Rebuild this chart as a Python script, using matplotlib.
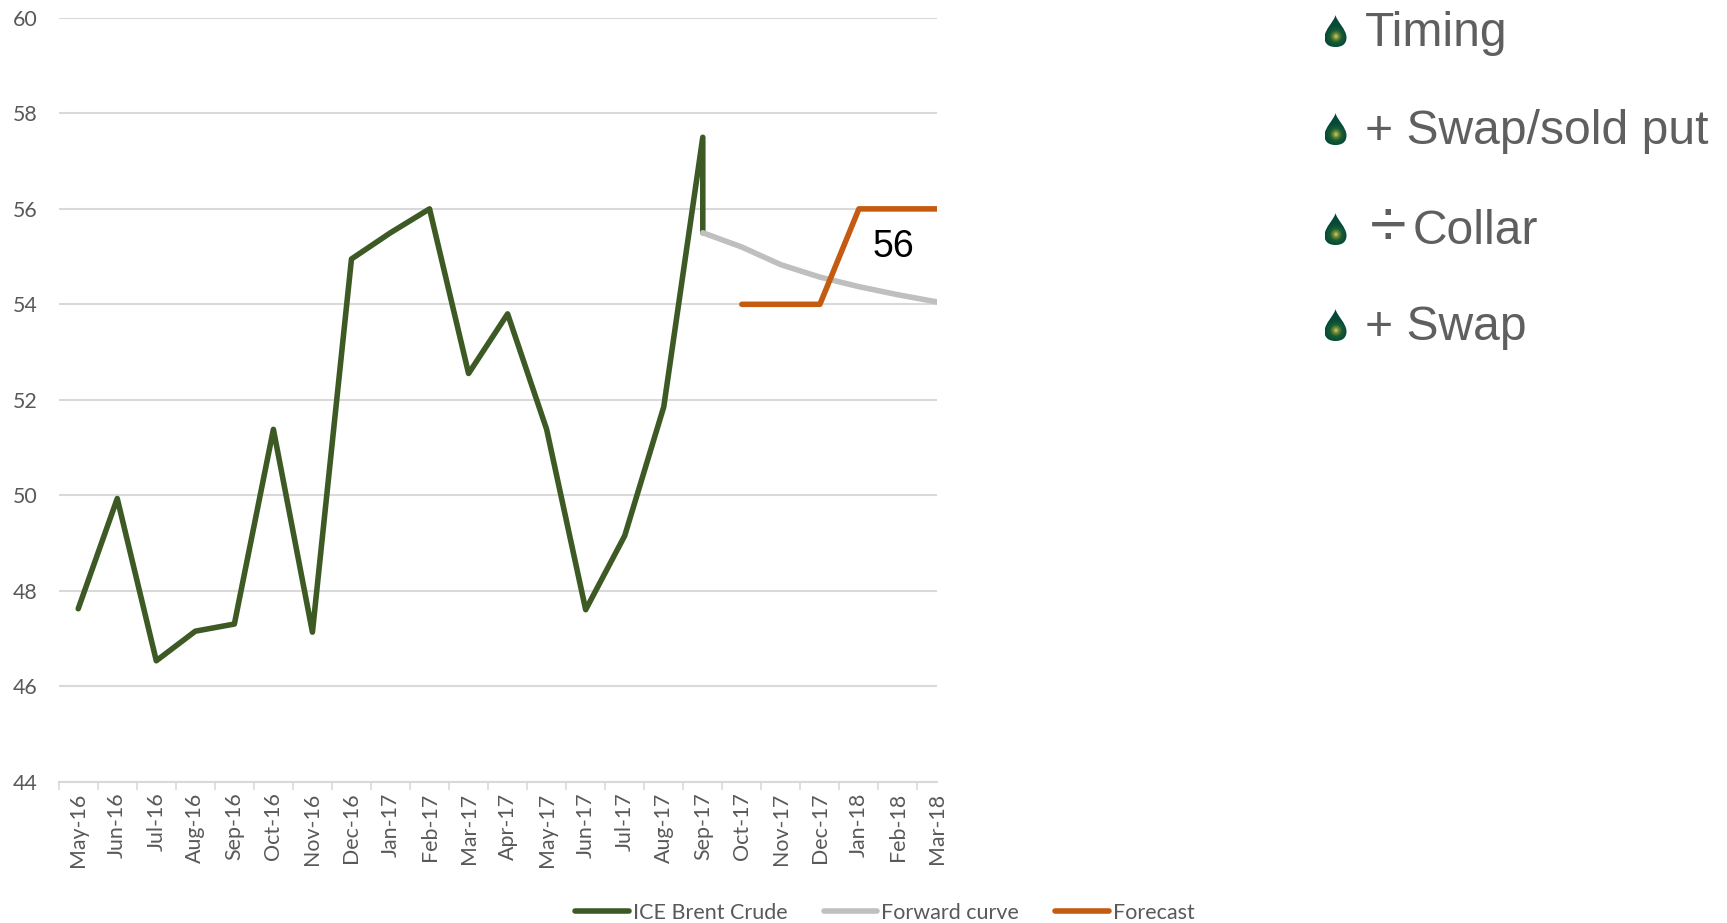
import numpy as np
import matplotlib
matplotlib.use("Agg")
import matplotlib.pyplot as plt
from matplotlib.patches import PathPatch
from matplotlib.path import Path

W, H = 1727, 923

months = ["May-16", "Jun-16", "Jul-16", "Aug-16", "Sep-16", "Oct-16", "Nov-16", "Dec-16",
          "Jan-17", "Feb-17", "Mar-17", "Apr-17", "May-17", "Jun-17", "Jul-17", "Aug-17",
          "Sep-17", "Oct-17", "Nov-17", "Dec-17", "Jan-18", "Feb-18", "Mar-18"]
y_ticks = [44, 46, 48, 50, 52, 54, 56, 58, 60]

# Sep-17 is there twice, the line drops straight down onto the forward curve
brent_x = ["May-16", "Jun-16", "Jul-16", "Aug-16", "Sep-16", "Oct-16", "Nov-16", "Dec-16",
           "Jan-17", "Feb-17", "Mar-17", "Apr-17", "May-17", "Jun-17", "Jul-17", "Aug-17",
           "Sep-17", "Sep-17"]
brent = [47.62, 49.93, 46.53, 47.15, 47.3, 51.38, 47.13, 54.95,
         55.5, 56.0, 52.55, 53.8, 51.38, 47.6, 49.15, 51.85,
         57.5, 55.5]

forward_x = ["Sep-17", "Oct-17", "Nov-17", "Dec-17", "Jan-18", "Feb-18", "Mar-18"]
forward = [55.5, 55.2, 54.83, 54.57, 54.37, 54.2, 54.05]

forecast_x = ["Oct-17", "Nov-17", "Dec-17", "Jan-18", "Feb-18", "Mar-18"]
forecast = [54, 54, 54, 56, 56, 56]

bullets = ["Timing", "+ Swap/sold put", "Collar", "+ Swap"]


def px_box(left, top, right, bottom):
    return [left / W, 1 - bottom / H, (right - left) / W, (bottom - top) / H]


def draw_drop(fig, cx, top, bottom):
    # little oil drop used as bullet
    half = 11
    ax = fig.add_axes(px_box(cx - half, top, cx + half, bottom))
    ax.set_xlim(-1, 1)
    ax.set_ylim(0, 1)
    ax.axis("off")
    gx, gy = np.meshgrid(np.linspace(-1, 1, 44), np.linspace(0, 1, 64))
    r = np.clip(np.sqrt(gx ** 2 + ((gy - 0.33) * 1.45) ** 2 * 4) / 1.0, 0, 1)
    stops = np.array([0.0, 0.25, 0.55, 1.0])
    cols = np.array([[0.85, 0.82, 0.38], [0.45, 0.55, 0.22], [0.1, 0.36, 0.2], [0.02, 0.29, 0.22]])
    img = np.dstack([np.interp(r, stops, cols[:, i]) for i in range(3)])
    im = ax.imshow(img, extent=(-1, 1, 0, 1), origin="lower", aspect="auto", zorder=1)
    verts = [(0, 1.0), (-0.12, 0.8), (-1.0, 0.55), (-1.0, 0.3), (-1.0, 0.08), (-0.55, 0), (0, 0),
             (0.55, 0), (1.0, 0.08), (1.0, 0.3), (1.0, 0.55), (0.12, 0.8), (0, 1.0), (0, 1.0)]
    codes = [Path.MOVETO] + [Path.CURVE4] * 12 + [Path.CLOSEPOLY]
    patch = PathPatch(Path(verts, codes), transform=ax.transData, fc="none", ec="none")
    ax.add_patch(patch)
    im.set_clip_path(patch)


fig = plt.figure(figsize=(W / 100, H / 100), dpi=100)
ax = fig.add_axes(px_box(58.7, 18, 937, 781.5))

pos = {m: i for i, m in enumerate(months)}
ax.plot([pos[m] for m in brent_x], brent, color="#3D5A24", lw=4, solid_capstyle="round",
        solid_joinstyle="round", label="ICE Brent Crude", zorder=3)
ax.plot([pos[m] for m in forward_x], forward, color="#BFBFBF", lw=4, solid_capstyle="round",
        solid_joinstyle="round", label="Forward curve", zorder=3)
ax.plot([pos[m] for m in forecast_x], forecast, color="#C55A11", lw=4, solid_capstyle="round",
        solid_joinstyle="round", label="Forecast", zorder=4)

ax.set_xlim(-0.5, 22)
ax.set_ylim(44, 60)
ax.set_yticks(y_ticks)
ax.set_xticks(range(len(months)))
ax.set_xticklabels(months, rotation=90, family="Lato", fontsize=15.4, color="#595959")
ax.set_yticklabels([str(v) for v in y_ticks], family="Lato", fontsize=15.4, color="#595959")
for lab in ax.get_xticklabels():
    lab.set_x(lab.get_position()[0])
ax.set_xticks(np.arange(-0.5, 22, 1), minor=True)
ax.tick_params(axis="x", which="major", length=0, pad=8)
ax.tick_params(axis="x", which="minor", length=5.5, width=1.2, color="#D9D9D9")
ax.tick_params(axis="y", length=0, pad=15)
ax.grid(axis="y", color="#D9D9D9", lw=1.5)
ax.set_axisbelow(True)
for side in ["top", "left", "right"]:
    ax.spines[side].set_visible(False)
ax.spines["bottom"].set_color("#D9D9D9")
ax.spines["bottom"].set_linewidth(1.5)

ax.text(20.88, 55.2, "56", family="Liberation Sans", fontsize=27, color="black",
        ha="center", va="center")

leg = ax.legend(loc="center", bbox_to_anchor=(885 / W, 1 - 913 / H), bbox_transform=fig.transFigure,
                ncol=3, frameon=False, prop={"family": "Lato", "size": 15.5},
                handlelength=2.5, handletextpad=0.19, columnspacing=1.65, borderpad=0, borderaxespad=0)
for txt in leg.get_texts():
    txt.set_color("#595959")

# right hand list
rows = [(46, 1365), (144, 1365), (244, 1413), (340, 1365)]
for (base, x), label in zip(rows, bullets):
    fig.text(x / W, 1 - base / H, label, family="Liberation Sans", fontsize=34.6,
             color="#5F5F5F", ha="left", va="baseline")
    draw_drop(fig, 1335.5, base - 31, base + 1)
fig.text(1370 / W, 1 - 246 / H, "÷", family="Liberation Sans", fontsize=48,
         color="#5F5F5F", ha="left", va="baseline")

fig.savefig("out.png", dpi=100)
